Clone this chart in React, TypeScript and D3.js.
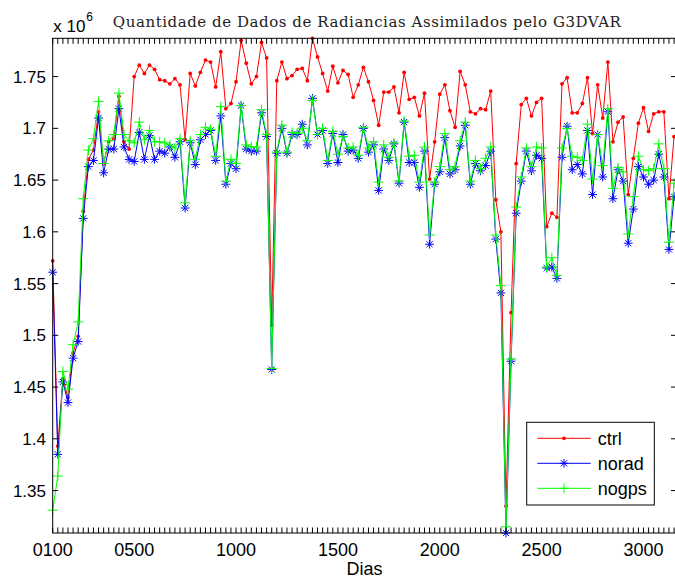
import React from 'react';
import * as d3 from 'd3';

// X: days (every 25)
const dias: number[] = Array.from({ length: 123 }, (_, i) => 100 + 25 * i);

const ctrl: number[] = [
  1.572, 1.393, 1.458, 1.440, 1.483, 1.499, 1.620, 1.670, 1.679, 1.716,
  1.666, 1.687, 1.690, 1.731, 1.687, 1.680, 1.750, 1.761, 1.753, 1.761,
  1.757, 1.747, 1.746, 1.743, 1.748, 1.742, 1.689, 1.753, 1.741, 1.754,
  1.766, 1.764, 1.740, 1.774, 1.719, 1.724, 1.745, 1.785, 1.763, 1.743,
  1.750, 1.783, 1.768, 1.510, 1.746, 1.764, 1.748, 1.751, 1.757, 1.758,
  1.746, 1.787, 1.769, 1.753, 1.736, 1.760, 1.744, 1.756, 1.752, 1.730,
  1.742, 1.759, 1.745, 1.727, 1.703, 1.735, 1.735, 1.740, 1.715, 1.754,
  1.728, 1.730, 1.712, 1.734, 1.651, 1.687, 1.733, 1.742, 1.717, 1.701,
  1.755, 1.742, 1.716, 1.714, 1.719, 1.718, 1.736, 1.631, 1.600, 1.335,
  1.522, 1.666, 1.723, 1.729, 1.712, 1.725, 1.729, 1.605, 1.618, 1.614,
  1.743, 1.749, 1.715, 1.715, 1.724, 1.749, 1.695, 1.742, 1.710, 1.764,
  1.687, 1.706, 1.711, 1.636, 1.671, 1.705, 1.720, 1.697, 1.714, 1.716,
  1.716, 1.632, 1.692,
];

const norad: number[] = [
  1.561, 1.385, 1.455, 1.435, 1.478, 1.494, 1.613, 1.663, 1.669, 1.710,
  1.657, 1.680, 1.680, 1.719, 1.682, 1.670, 1.668, 1.696, 1.670, 1.693,
  1.670, 1.678, 1.676, 1.682, 1.672, 1.687, 1.623, 1.686, 1.665, 1.689,
  1.694, 1.698, 1.669, 1.712, 1.646, 1.666, 1.661, 1.722, 1.680, 1.678,
  1.678, 1.715, 1.692, 1.467, 1.676, 1.700, 1.676, 1.694, 1.694, 1.704,
  1.684, 1.729, 1.694, 1.698, 1.666, 1.695, 1.667, 1.694, 1.678, 1.679,
  1.671, 1.700, 1.677, 1.684, 1.640, 1.680, 1.669, 1.685, 1.647, 1.706,
  1.667, 1.667, 1.643, 1.678, 1.588, 1.646, 1.658, 1.691, 1.656, 1.660,
  1.683, 1.703, 1.646, 1.666, 1.659, 1.664, 1.678, 1.593, 1.541, 1.309,
  1.475, 1.618, 1.649, 1.678, 1.659, 1.674, 1.671, 1.565, 1.566, 1.555,
  1.672, 1.702, 1.660, 1.665, 1.656, 1.698, 1.636, 1.694, 1.653, 1.716,
  1.632, 1.660, 1.649, 1.589, 1.622, 1.663, 1.653, 1.646, 1.650, 1.675,
  1.653, 1.583, 1.634,
];

const nogps: number[] = [
  1.331, 1.364, 1.465, 1.448, 1.491, 1.513, 1.632, 1.679, 1.690, 1.726,
  1.666, 1.688, 1.694, 1.734, 1.694, 1.688, 1.686, 1.706, 1.689, 1.698,
  1.687, 1.687, 1.686, 1.684, 1.681, 1.690, 1.628, 1.688, 1.670, 1.694,
  1.701, 1.699, 1.673, 1.721, 1.649, 1.670, 1.666, 1.722, 1.684, 1.682,
  1.682, 1.718, 1.694, 1.468, 1.677, 1.703, 1.677, 1.696, 1.695, 1.700,
  1.688, 1.727, 1.694, 1.700, 1.669, 1.697, 1.675, 1.692, 1.681, 1.682,
  1.674, 1.701, 1.681, 1.687, 1.648, 1.684, 1.672, 1.686, 1.649, 1.707,
  1.673, 1.674, 1.648, 1.682, 1.597, 1.648, 1.663, 1.695, 1.660, 1.663,
  1.688, 1.706, 1.649, 1.669, 1.661, 1.671, 1.682, 1.597, 1.548, 1.315,
  1.477, 1.624, 1.653, 1.681, 1.663, 1.682, 1.681, 1.566, 1.575, 1.558,
  1.681, 1.700, 1.673, 1.672, 1.669, 1.704, 1.651, 1.694, 1.664, 1.719,
  1.642, 1.662, 1.658, 1.598, 1.634, 1.673, 1.660, 1.659, 1.661, 1.685,
  1.661, 1.590, 1.647,
];

const xTickValues: number[] = [100, 500, 1000, 1500, 2000, 2500, 3000];
const xTickLabels: string[] = ['0100', '0500', '1000', '1500', '2000', '2500', '3000'];
const yTickValues: number[] = [1.35, 1.4, 1.45, 1.5, 1.55, 1.6, 1.65, 1.7, 1.75];
const yTickLabels: string[] = ['1.35', '1.4', '1.45', '1.5', '1.55', '1.6', '1.65', '1.7', '1.75'];

const seriesNames: string[] = ['ctrl', 'norad', 'nogps'];
const seriesColors: string[] = ['#ff0000', '#0000ff', '#00ff00'];
const seriesMarkers: string[] = ['dot', 'star', 'plus'];

const W = 675;
const H = 581;
const M = { left: 52.7, right: 676.5, top: 38.3, bottom: 533 };
const SANS = '"Liberation Sans", Arial, Helvetica, sans-serif';

function Marker({ kind, x, y, color }: { kind: string; x: number; y: number; color: string }) {
  if (kind === 'dot') return <circle cx={x} cy={y} r={1.9} fill={color} />;
  if (kind === 'star') {
    const h = 4.4;
    const d = 3.1;
    return (
      <path
        d={`M${x - h},${y}L${x + h},${y}M${x},${y - h}L${x},${y + h}M${x - d},${y - d}L${x + d},${y + d}M${x - d},${y + d}L${x + d},${y - d}`}
        stroke={color}
        strokeWidth={1}
        fill="none"
      />
    );
  }
  const p = 5;
  return (
    <path d={`M${x - p},${y}L${x + p},${y}M${x},${y - p}L${x},${y + p}`} stroke={color} strokeWidth={1} fill="none" />
  );
}

export default function App() {
  const all = [...ctrl, ...norad, ...nogps];
  const ext = d3.extent(all) as [number, number];
  const x = d3.scaleLinear().domain([100, 3162]).range([M.left, M.right]);
  const y = d3.scaleLinear().domain(ext).range([M.bottom, M.top]);
  const series = [ctrl, norad, nogps];
  const line = d3
    .line<number>()
    .x((_, i) => x(dias[i]))
    .y((d) => y(d));

  const tickLen = 5.5;
  const legend = { x0: 526.7, y0: 422.3, x1: 654.3, y1: 505 };
  const legendRows = [438.3, 463.3, 488.3];

  return (
    <svg width={W} height={H} style={{ position: 'absolute', left: 0, top: 0, background: '#fff' }}>
      <rect x={0} y={0} width={W} height={H} fill="#fff" />
      {/* title */}
      <text
        x={(112.7 + 621) / 2}
        y={26.5}
        textAnchor="middle"
        fontFamily='"DejaVu Serif", serif'
        fontSize={15}
        textLength={508}
        lengthAdjust="spacing"
        fill="#222"
      >
        Quantidade de Dados de Radiancias Assimilados pelo G3DVAR
      </text>
      {/* exponent */}
      <text x={53.3} y={31.7} fontFamily={SANS} fontSize={17} fill="#000">
        x 10
      </text>
      <text x={86.3} y={20.5} fontFamily={SANS} fontSize={12} fill="#000">
        6
      </text>

      {/* series */}
      {series.map((s, k) => (
        <g key={seriesNames[k]}>
          <path d={line(s) || ''} fill="none" stroke={seriesColors[k]} strokeWidth={1} />
          {s.map((v, i) => (
            <Marker key={i} kind={seriesMarkers[k]} x={x(dias[i])} y={y(v)} color={seriesColors[k]} />
          ))}
        </g>
      ))}

      {/* x ticks on every data day */}
      <g stroke="#000" strokeWidth={1}>
        {dias.map((d) => (
          <g key={d}>
            <line x1={x(d)} x2={x(d)} y1={M.bottom} y2={M.bottom - tickLen} />
            <line x1={x(d)} x2={x(d)} y1={M.top} y2={M.top + tickLen} />
          </g>
        ))}
        {yTickValues.map((v) => (
          <g key={v}>
            <line x1={M.left} x2={M.left + tickLen} y1={y(v)} y2={y(v)} />
            <line x1={M.right} x2={M.right - tickLen} y1={y(v)} y2={y(v)} />
          </g>
        ))}
      </g>
      {/* frame */}
      <rect
        x={M.left}
        y={M.top}
        width={M.right - M.left}
        height={M.bottom - M.top}
        fill="none"
        stroke="#000"
        strokeWidth={1}
      />
      {/* tick labels */}
      {xTickValues.map((v, i) => (
        <text key={v} x={x(v)} y={555.5} textAnchor="middle" fontFamily={SANS} fontSize={18} fill="#000">
          {xTickLabels[i]}
        </text>
      ))}
      {yTickValues.map((v, i) => (
        <text key={v} x={46} y={y(v)} dy="0.36em" textAnchor="end" fontFamily={SANS} fontSize={17} fill="#000">
          {yTickLabels[i]}
        </text>
      ))}
      <text x={(M.left + M.right) / 2} y={575} textAnchor="middle" fontFamily={SANS} fontSize={18} fill="#000">
        Dias
      </text>

      {/* legend */}
      <rect
        x={legend.x0}
        y={legend.y0}
        width={legend.x1 - legend.x0}
        height={legend.y1 - legend.y0}
        fill="#fff"
        stroke="#000"
        strokeWidth={1}
      />
      {seriesNames.map((n, k) => (
        <g key={n}>
          <line x1={537.3} x2={590.7} y1={legendRows[k]} y2={legendRows[k]} stroke={seriesColors[k]} strokeWidth={1} />
          <Marker kind={seriesMarkers[k]} x={564} y={legendRows[k]} color={seriesColors[k]} />
          <text x={597.7} y={legendRows[k] + 6.5} fontFamily={SANS} fontSize={18} fill="#000">
            {n}
          </text>
        </g>
      ))}
    </svg>
  );
}
